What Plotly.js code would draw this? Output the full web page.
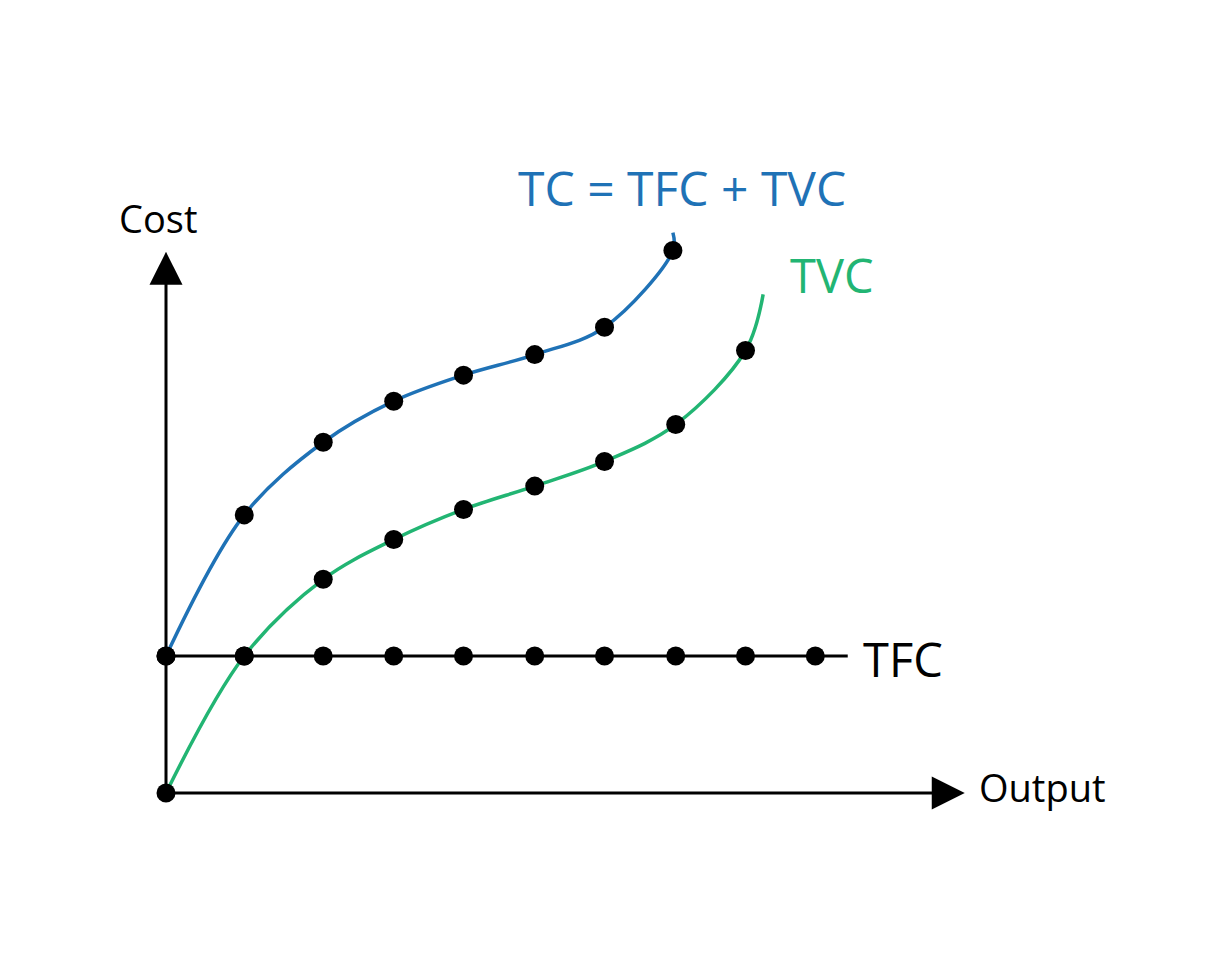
<!DOCTYPE html>
<html>
<head>
<meta charset="utf-8">
<script src="https://cdn.plot.ly/plotly-3.0.1.min.js"></script>
<style>html,body{margin:0;padding:0;background:#fff;}#chart{width:1225px;height:980px;}</style>
</head>
<body>
<div id="chart"></div>
<script>
// Output levels
const output = [0, 1.11, 2.23, 3.23, 4.22, 5.23, 6.22, 7.23, 8.22, 9.21];
// Total cost at the dotted points
const tcOutput = [0, 1.11, 2.23, 3.23, 4.22, 5.23, 6.22, 7.19];
const tcValues = [100, 203, 256, 286, 305, 320, 340, 396];
// Total variable cost at the dotted points
const tvcOutput = [0, 1.11, 2.23, 3.23, 4.22, 5.23, 6.22, 7.23, 8.22];
const tvcValues = [0, 100, 156, 185, 207, 224, 242, 269, 323];
// Line continuations beyond the last dot (no marker)
const tcTailOutput = [7.19];
const tcTailValue = [409];
const tvcTailOutput = [8.47];
const tvcTailValue = [364];
// Total fixed cost
const tfcValue = 100;
const tfcEnd = 9.67;
// Axis extents
const xAxisEnd = 11.33;
const yAxisEnd = 395;

const blue = '#1f72b6';
const green = '#22b573';
const font = 'Open Sans, Noto Sans, sans-serif';

const traces = [
  {x: tcOutput.concat(tcTailOutput), y: tcValues.concat(tcTailValue), mode: 'lines',
   line: {color: blue, width: 3.5, shape: 'spline', smoothing: 1}, hoverinfo: 'skip'},
  {x: tvcOutput.concat(tvcTailOutput), y: tvcValues.concat(tvcTailValue), mode: 'lines',
   line: {color: green, width: 3.5, shape: 'spline', smoothing: 1}, hoverinfo: 'skip'},
  {x: [0, tfcEnd], y: [tfcValue, tfcValue], mode: 'lines',
   line: {color: '#000', width: 3}, hoverinfo: 'skip'},
];

const annotations = [
  {x: 0, y: yAxisEnd, ax: 0, ay: 0, xref: 'x', yref: 'y', axref: 'x', ayref: 'y', text: '',
   showarrow: true, arrowhead: 2, arrowsize: 2.2, arrowwidth: 3, arrowcolor: '#000'},
  {x: xAxisEnd, y: 0, ax: 0, ay: 0, xref: 'x', yref: 'y', axref: 'x', ayref: 'y', text: '',
   showarrow: true, arrowhead: 2, arrowsize: 2.2, arrowwidth: 3, arrowcolor: '#000'},
  {x: 682/1225, y: 1 - 188/980, xref: 'paper', yref: 'paper', text: 'TC = TFC + TVC', showarrow: false,
   font: {family: font, size: 48, color: blue}, xanchor: 'center', yanchor: 'middle'},
  {x: 832/1225, y: 1 - 275/980, xref: 'paper', yref: 'paper', text: 'TVC', showarrow: false,
   font: {family: font, size: 47, color: green}, xanchor: 'center', yanchor: 'middle'},
  {x: 903/1225, y: 1 - 659/980, xref: 'paper', yref: 'paper', text: 'TFC', showarrow: false,
   font: {family: font, size: 47, color: '#000'}, xanchor: 'center', yanchor: 'middle'},
  {x: 158/1225, y: 1 - 218/980, xref: 'paper', yref: 'paper', text: 'Cost', showarrow: false,
   font: {family: font, size: 38, color: '#000'}, xanchor: 'center', yanchor: 'middle'},
  {x: 1042/1225, y: 1 - 787/980, xref: 'paper', yref: 'paper', text: 'Output', showarrow: false,
   font: {family: font, size: 38, color: '#000'}, xanchor: 'center', yanchor: 'middle'},
];

// dots on top
traces.push({x: output, y: output.map(() => tfcValue), mode: 'markers',
  marker: {color: '#000', size: 19}, hoverinfo: 'skip'});
traces.push({x: tcOutput, y: tcValues, mode: 'markers',
  marker: {color: '#000', size: 19}, hoverinfo: 'skip'});
traces.push({x: tvcOutput, y: tvcValues, mode: 'markers',
  marker: {color: '#000', size: 19}, hoverinfo: 'skip'});

const layout = {
  width: 1225, height: 980,
  margin: {l: 0, r: 0, t: 0, b: 0},
  paper_bgcolor: '#fff', plot_bgcolor: '#fff',
  showlegend: false,
  xaxis: {range: [-166/70.5, (1225-166)/70.5], visible: false, fixedrange: true},
  yaxis: {range: [-187/1.37, 793/1.37], visible: false, fixedrange: true},
  annotations: annotations,
};

Plotly.newPlot('chart', traces, layout, {staticPlot: true, displayModeBar: false});
</script>
</body>
</html>
